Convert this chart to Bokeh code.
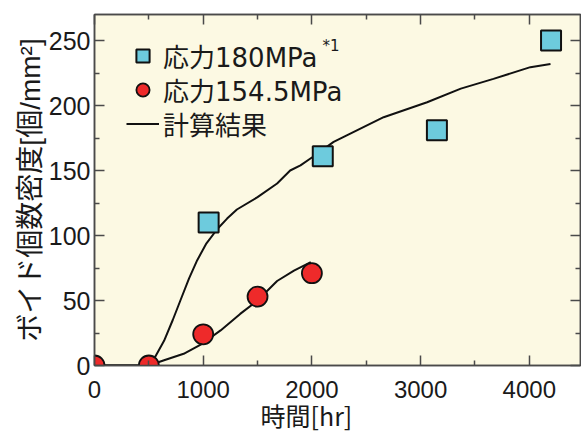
from bokeh.plotting import figure
from bokeh.embed import file_html
from bokeh.resources import INLINE
from bokeh.models import (Range1d, LinearAxis, FixedTicker, Legend, LegendItem,
                          Label, Title)

# ---- data ----
hours_180 = [1050, 2100, 3150, 4200]
voids_180 = [110, 161, 181, 250]

hours_154 = [0, 500, 1000, 1500, 2000]
voids_154 = [0, 0, 24, 53, 71]

calc_180_x = [0, 500, 560, 640, 720, 790, 870, 945, 1030, 1130, 1220, 1310,
              1500, 1680, 1800, 1895, 2000, 2200, 2660, 3060, 3370, 3670,
              4010, 4195]
calc_180_y = [0, 0, 7, 19, 35, 50, 67, 81, 94, 105, 113, 120,
              129.5, 140, 150, 154, 160, 172, 191, 202.5, 213, 220.5,
              229.5, 232]

calc_154_x = [0, 500, 640, 820, 990, 1160, 1340, 1500, 1680, 1835, 1990]
calc_154_y = [0, 0, 4, 9, 16.7, 27, 39.7, 50, 65, 73, 79.5]

x_ticks = [0, 1000, 2000, 3000, 4000]
y_ticks = [0, 50, 100, 150, 200, 250]
x_minor = [500, 1500, 2500, 3500]
y_minor = [25, 75, 125, 175, 225]

x_title = "時間[hr]"
y_title = "ボイド個数密度[個/mm²]"
leg_180 = "応力180MPa"
leg_154 = "応力154.5MPa"
leg_calc = "計算結果"
leg_note = "*1"

LAT = "Liberation Sans"
CJK = "Noto Sans CJK JP"
MIX = "Liberation Sans, Noto Sans CJK JP"
LEGF = "DejaVu Sans, Noto Sans CJK JP"
BG = "#FCF9E3"
AX = "#4a4a4a"
TXT = "#1a1a1a"

p = figure(width=581, height=431, output_backend="svg", toolbar_location=None,
           x_range=Range1d(0, 4471), y_range=Range1d(0, 270),
           min_border_left=94, min_border_right=1, min_border_top=14,
           min_border_bottom=66, x_axis_location=None, y_axis_location=None)
p.background_fill_color = BG
p.border_fill_color = "white"
p.outline_line_color = AX
p.outline_line_width = 1.5
p.grid.visible = False

def style_axis(ax, ticks, minor, size=None):
    ax.ticker = FixedTicker(ticks=ticks, minor_ticks=minor)
    ax.major_tick_in = 10
    ax.major_tick_out = 0
    ax.minor_tick_in = 5
    ax.minor_tick_out = 0
    ax.major_tick_line_color = AX
    ax.minor_tick_line_color = AX
    ax.major_tick_line_width = 1.5
    ax.minor_tick_line_width = 1.5
    ax.axis_line_color = AX
    ax.axis_line_width = 1.5
    if size:
        ax.major_label_text_font = LAT
        ax.major_label_text_font_size = size
        ax.major_label_text_color = TXT
    else:
        ax.major_label_text_font_size = "0px"
        ax.major_label_text_color = None

xb = LinearAxis()
style_axis(xb, x_ticks, x_minor, "24px")
xb.major_label_standoff = 15
p.add_layout(xb, "below")

xt = LinearAxis()
style_axis(xt, x_ticks, x_minor)
p.add_layout(xt, "above")

yl = LinearAxis(axis_label=y_title)
style_axis(yl, y_ticks, y_minor, "25px")
yl.major_label_standoff = 4
yl.axis_label_text_font = MIX
yl.axis_label_text_font_size = "28px"
yl.axis_label_text_font_style = "normal"
yl.axis_label_text_color = TXT
yl.axis_label_standoff = 0
p.add_layout(yl, "left")

yr = LinearAxis()
style_axis(yr, y_ticks, y_minor)
p.add_layout(yr, "right")

p.add_layout(Title(text=x_title, align="left", offset=166, text_font=CJK,
                   text_font_size="25px", text_font_style="normal",
                   text_color=TXT, standoff=-12), "below")

# calculated lines
r_c1 = p.line(calc_180_x, calc_180_y, line_color="#111111", line_width=2)
r_c2 = p.line(calc_154_x, calc_154_y, line_color="#111111", line_width=2)

# measured points
r_sq = p.scatter(hours_180, voids_180, marker="square", size=20,
                 fill_color="#6DCBDD", line_color="#111111", line_width=2)
r_ci = p.scatter(hours_154, voids_154, marker="circle", size=20,
                 fill_color="#EE2A2A", line_color="#111111", line_width=1.8)

# one legend box per entry, so the row pitch matches the reference
for label, rend, ybot in [(leg_180, r_sq, 291), (leg_154, r_ci, 257),
                          (leg_calc, r_c1, 223)]:
    lg = Legend(items=[LegendItem(label=label, renderers=[rend])],
                location=(32, ybot), padding=0, margin=0, spacing=0,
                glyph_width=33, glyph_height=33, label_height=34,
                label_standoff=4, background_fill_alpha=0,
                border_line_color=None,
                label_text_font=LEGF, label_text_font_size="26px",
                label_text_color=TXT)
    p.add_layout(lg, "center")

sup = Label(x=228, y=320, x_units="screen", y_units="screen", text=leg_note,
            text_font=LEGF, text_font_size="15px", text_color=TXT,
            text_baseline="middle", text_align="left")
p.add_layout(sup)

open("out.html", "w").write(file_html(p, INLINE))
